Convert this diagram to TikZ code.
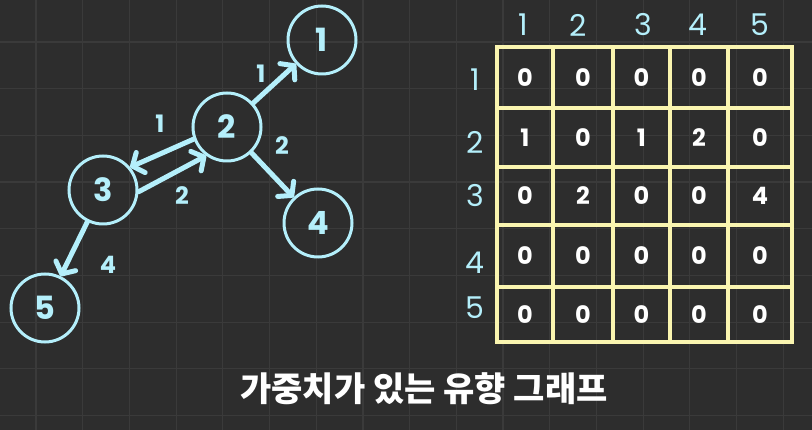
\documentclass[tikz,border=0pt]{standalone}
\usepackage{fontspec}
\setmainfont{Poppins}
\newfontfamily\kofont{Noto Sans CJK KR}
\usepackage{xcolor}
\usetikzlibrary{arrows.meta, positioning}

\definecolor{bgdark}{HTML}{2D2D2D}
\definecolor{gridgray}{HTML}{3A3A3A}
\definecolor{paleblue}{HTML}{B4EFFB}
\definecolor{paleyellow}{HTML}{FAF5B0}

\begin{document}
\begin{tikzpicture}[x=1pt, y=-1pt,
    vertex/.style={draw=paleblue, circle, line width=3pt, minimum size=68pt, inner sep=0pt, text=paleblue, font=\bfseries\fontsize{32}{32}\selectfont},
    edge/.style={draw=paleblue, line width=5pt, line cap=round, -{Straight Barb[round, length=9pt, width=22pt]}},
    weight/.style={text=paleblue, font=\bfseries\fontsize{24}{24}\selectfont},
    header/.style={text=paleblue, font=\fontsize{30}{30}\selectfont},
    cell/.style={draw=paleyellow, line width=3.5pt, rectangle, inner sep=0pt, text=white, font=\bfseries\fontsize{24}{24}\selectfont},
    gridline/.style={draw=gridgray, line width=1.2pt}
]

% Background
\useasboundingbox (0,0) rectangle (812,430);
\fill[bgdark] (0,0) rectangle (812,430);
\foreach \i in {0,...,16} \draw[gridline] ({36+46.7*\i},0) -- ({36+46.7*\i},430);
\foreach \j in {0,...,8} \draw[gridline] (0,{42+46.7*\j}) -- (812,{42+46.7*\j});

% Graph
\node (n1) [vertex] at (322,40) {1};
\node (n2) [vertex] at (227,127) {2};
\node (n3) [vertex] at (103,190) {3};
\node (n4) [vertex] at (318,223) {4};
\node (n5) [vertex] at (45,308) {5};

\draw [edge] (n2) -- (n1);
\draw [edge] (n2.200) -- (n3.40);
\draw [edge] (n3.357) -- (n2.234);
\draw [edge] (n2) -- (n4);
\draw [edge] (n3) -- (n5);

\node (w21) [weight] at (261,74) {1};
\node (w23) [weight] at (160,124) {1};
\node (w32) [weight] at (182,196) {2};
\node (w24) [weight] at (282,146) {2};
\node (w35) [weight] at (108,265) {4};

% Matrix headers
\node (h1) [header] at (523,25) {1};
\node (h2) [header] at (578,25) {2};
\node (h3) [header] at (643,25) {3};
\node (h4) [header] at (698,25) {4};
\node (h5) [header] at (760,25) {5};
\node (r1) [header] at (475,80) {1};
\node (r2) [header] at (475,142) {2};
\node (r3) [header] at (475,196) {3};
\node (r4) [header] at (475,263) {4};
\node (r5) [header] at (475,308) {5};

% Matrix cells
\node (c11) [cell, minimum width=56pt, minimum height=61pt] at (525,77.5) {0};
\node (c12) [cell, minimum width=60pt, minimum height=61pt] at (583,77.5) {0};
\node (c13) [cell, minimum width=57pt, minimum height=61pt] at (641.5,77.5) {0};
\node (c14) [cell, minimum width=58pt, minimum height=61pt] at (699,77.5) {0};
\node (c15) [cell, minimum width=64pt, minimum height=61pt] at (760,77.5) {0};

\node (c21) [cell, minimum width=56pt, minimum height=59pt] at (525,137.5) {1};
\node (c22) [cell, minimum width=60pt, minimum height=59pt] at (583,137.5) {0};
\node (c23) [cell, minimum width=57pt, minimum height=59pt] at (641.5,137.5) {1};
\node (c24) [cell, minimum width=58pt, minimum height=59pt] at (699,137.5) {2};
\node (c25) [cell, minimum width=64pt, minimum height=59pt] at (760,137.5) {0};

\node (c31) [cell, minimum width=56pt, minimum height=58pt] at (525,196) {0};
\node (c32) [cell, minimum width=60pt, minimum height=58pt] at (583,196) {2};
\node (c33) [cell, minimum width=57pt, minimum height=58pt] at (641.5,196) {0};
\node (c34) [cell, minimum width=58pt, minimum height=58pt] at (699,196) {0};
\node (c35) [cell, minimum width=64pt, minimum height=58pt] at (760,196) {4};

\node (c41) [cell, minimum width=56pt, minimum height=62pt] at (525,256) {0};
\node (c42) [cell, minimum width=60pt, minimum height=62pt] at (583,256) {0};
\node (c43) [cell, minimum width=57pt, minimum height=62pt] at (641.5,256) {0};
\node (c44) [cell, minimum width=58pt, minimum height=62pt] at (699,256) {0};
\node (c45) [cell, minimum width=64pt, minimum height=62pt] at (760,256) {0};

\node (c51) [cell, minimum width=56pt, minimum height=55pt] at (525,314.5) {0};
\node (c52) [cell, minimum width=60pt, minimum height=55pt] at (583,314.5) {0};
\node (c53) [cell, minimum width=57pt, minimum height=55pt] at (641.5,314.5) {0};
\node (c54) [cell, minimum width=58pt, minimum height=55pt] at (699,314.5) {0};
\node (c55) [cell, minimum width=64pt, minimum height=55pt] at (760,314.5) {0};

% Caption
\node (title) [text=white, font=\kofont\bfseries\fontsize{34}{34}\selectfont] at (424,389) {가중치가 있는 유향 그래프};

\end{tikzpicture}
\end{document}
